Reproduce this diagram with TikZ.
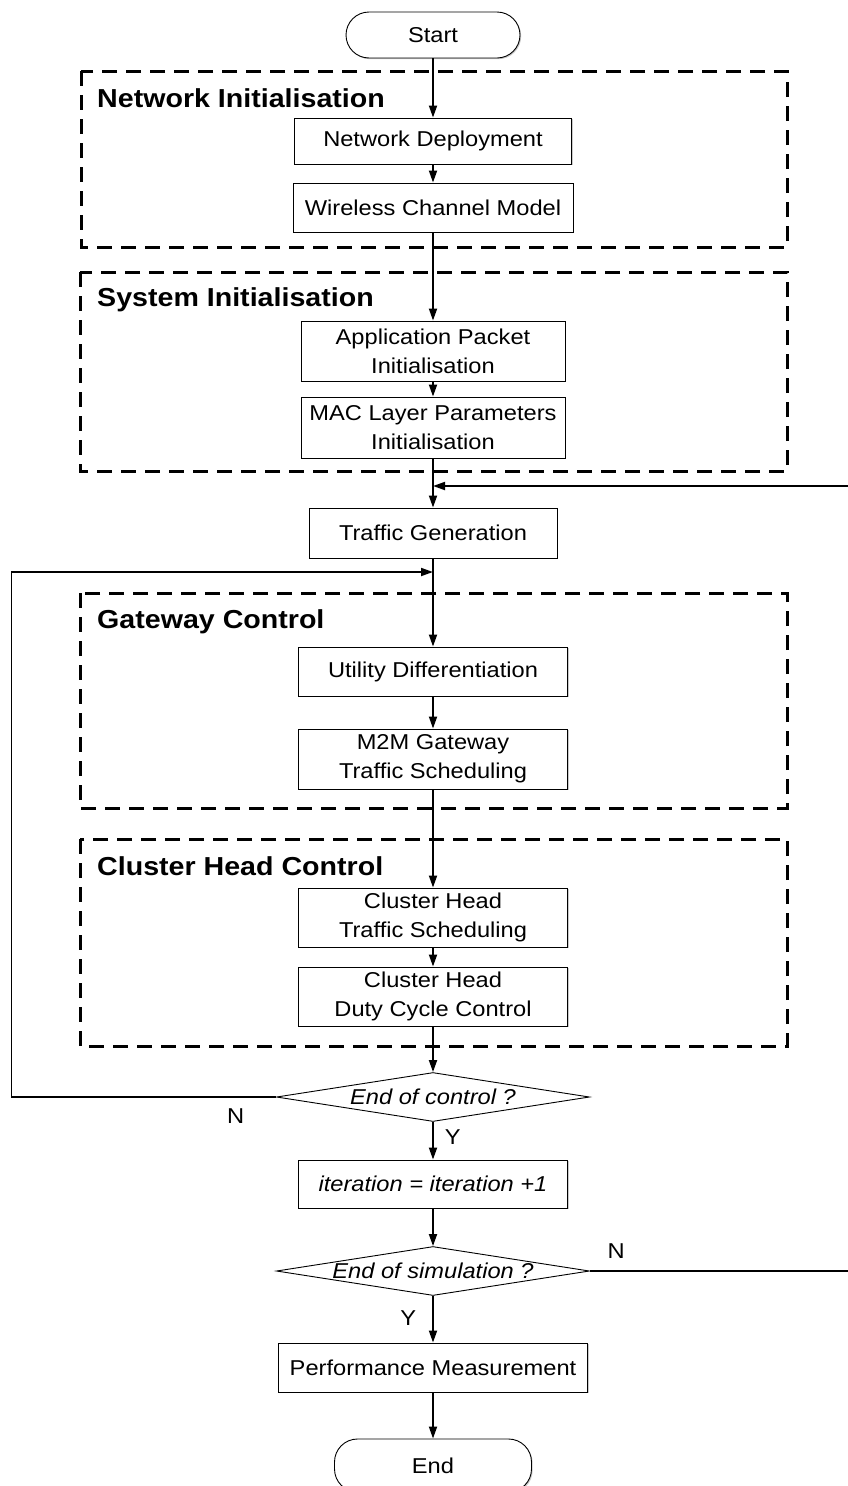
\documentclass[tikz,border=0pt]{standalone}
\usepackage{fontspec}
\setmainfont{Liberation Sans}[FakeStretch=1.1]
\usepackage{tikz}
\usetikzlibrary{shapes.geometric, arrows.meta, positioning, calc, shadows}

\begin{document}
\begin{tikzpicture}[x=1pt, y=-1pt,
    font=\fontsize{21.5}{29}\selectfont,
    process/.style={draw, line width=0.9pt, fill=white, align=center, inner sep=0pt,
        minimum width=269pt,
        drop shadow={shadow xshift=1.2pt, shadow yshift=-1.2pt, fill=black!35, opacity=0.6}},
    terminal/.style={process, rounded corners=23pt},
    decision/.style={diamond, draw, line width=0.9pt, fill=white, inner sep=0pt,
        minimum width=313pt, minimum height=49pt,
        font=\fontsize{21.5}{29}\selectfont\itshape},
    group/.style={draw, line width=3pt, dash pattern=on 15pt off 9pt},
    grouptitle/.style={anchor=base west, inner sep=0pt,
        font=\fontsize{26}{30}\selectfont\bfseries},
    flow/.style={-{Triangle[length=12pt, width=8pt]}, line width=1.8pt},
    answer/.style={inner sep=0pt}]
\useasboundingbox (0,0) rectangle (848,1486);

% Dashed control groups
\draw[group] (81,71) rectangle (787,247);
\node[grouptitle] (netinit) at (97,107) {Network Initialisation};
\draw[group] (80,272) rectangle (787,471);
\node[grouptitle] (sysinit) at (97,306) {System Initialisation};
\draw[group] (80,593) rectangle (787,808);
\node[grouptitle] (gwctrl) at (97,628) {Gateway Control};
\draw[group] (80,839) rectangle (787,1046);
\node[grouptitle] (chctrl) at (97,875) {Cluster Head Control};

% Steps of the flow
\node[terminal, minimum width=174pt, minimum height=46pt] (start) at (433,35) {Start};
\node[process, minimum width=277pt, minimum height=46pt] (deploy) at (433,141) {Network Deployment};
\node[process, minimum width=280pt, minimum height=49pt] (channel) at (433,207.5) {Wireless Channel Model};
\node[process, minimum width=264pt, minimum height=60pt] (packet) at (433,351) {Application Packet\\Initialisation};
\node[process, minimum width=264pt, minimum height=61pt] (mac) at (433,427.5) {MAC Layer Parameters\\Initialisation};
\node[process, minimum width=248pt, minimum height=50pt] (traffic) at (433,533) {Traffic Generation};
\node[process, minimum height=49pt] (utility) at (433,671.5) {Utility Differentiation};
\node[process, minimum height=60pt] (gwsched) at (433,759) {M2M Gateway\\Traffic Scheduling};
\node[process, minimum height=59pt] (chsched) at (433,917.5) {Cluster Head\\Traffic Scheduling};
\node[process, minimum height=59pt] (chduty) at (433,996.5) {Cluster Head\\Duty Cycle Control};
\node[decision] (ctrlend) at (433,1097) {\makebox[0pt]{End of control ?}};
\node[process, minimum height=48pt, font=\fontsize{21.5}{29}\selectfont\itshape] (iter) at (433,1184) {iteration = iteration +1};
\node[decision] (simend) at (433,1271) {\makebox[0pt]{End of simulation ?}};
\node[process, minimum width=309pt, minimum height=49pt] (perf) at (433,1367.5) {Performance Measurement};
\node[terminal, minimum width=197pt, minimum height=53pt] (finish) at (433,1465.5) {End};

% Merge points of the two loops
\coordinate (backin) at (433,486);
\coordinate (loopin) at (433,572);

% Connectors
\draw[flow] (start) -- (deploy);
\draw[flow] (deploy) -- (channel);
\draw[flow] (channel) -- (packet);
\draw[flow] (packet) -- (mac);
\draw[flow] (mac) -- (traffic);
\draw[flow] (traffic) -- (utility);
\draw[flow] (utility) -- (gwsched);
\draw[flow] (gwsched) -- (chsched);
\draw[flow] (chsched) -- (chduty);
\draw[flow] (chduty) -- (ctrlend);
\draw[flow] (ctrlend) -- node[answer, pos=0.39, right, xshift=11pt] {Y} (iter);
\draw[flow] (ctrlend.west) -- node[answer, pos=0.153, below, yshift=-11pt] {N} ++(-264.5,0) |- (loopin);
\draw[flow] (iter) -- (simend);
\draw[flow] (simend) -- node[answer, pos=0.48, left, xshift=-16pt] {Y} (perf);
\draw[flow] (simend.east) -- node[answer, pos=0.1, above, yshift=12pt] {N} ++(262.5,0) |- (backin);
\draw[flow] (perf) -- (finish);
\end{tikzpicture}
\end{document}
